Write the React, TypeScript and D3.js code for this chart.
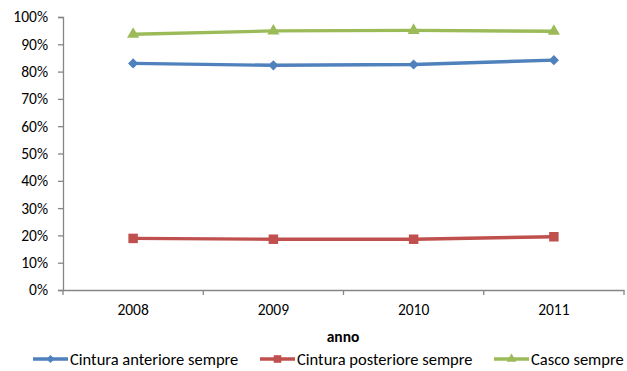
import * as d3 from 'd3';
import { useEffect, useRef } from 'react';

const years = ['2008', '2009', '2010', '2011'];
const cinturaAnteriore = [0.83, 0.823, 0.826, 0.842];
const cinturaPosteriore = [0.189, 0.186, 0.186, 0.195];
const cascoSempre = [0.937, 0.949, 0.951, 0.948];
const yTicks = [0, 0.1, 0.2, 0.3, 0.4, 0.5, 0.6, 0.7, 0.8, 0.9, 1];

type Shape = 'diamond' | 'square' | 'triangle';

const series: Array<{ label: string; values: number[]; color: string; shape: Shape }> = [
  { label: 'Cintura anteriore sempre', values: cinturaAnteriore, color: '#4f81bd', shape: 'diamond' },
  { label: 'Cintura posteriore sempre', values: cinturaPosteriore, color: '#c0504d', shape: 'square' },
  { label: 'Casco sempre', values: cascoSempre, color: '#9bbb59', shape: 'triangle' },
];

const FONT = 'Carlito, Calibri, Lato, sans-serif';
const width = 627;
const height = 371;

function symbolPath(shape: Shape) {
  if (shape === 'diamond') return d3.symbol(d3.symbolDiamond2, 66)();
  if (shape === 'square') return d3.symbol(d3.symbolSquare, 90)();
  return d3.symbol(d3.symbolTriangle, 64)();
}

function App() {
  const svgRef = useRef<SVGSVGElement | null>(null);

  useEffect(() => {
    if (!svgRef.current) return;
    const svg = d3.select(svgRef.current);
    svg.selectAll('*').remove();

    const plot = { left: 63, right: 624, top: 17, bottom: 290 };
    const x = d3.scaleBand<string>().domain(years).range([plot.left, plot.right]);
    const y = d3.scaleLinear().domain([0, 1]).range([plot.bottom, plot.top]);
    const axisColor = '#868686';

    // y axis
    svg
      .append('g')
      .attr('transform', `translate(${plot.left},0)`)
      .call(d3.axisLeft(y).tickValues(yTicks).tickSize(5).tickPadding(10).tickFormat(d3.format('.0%')))
      .call((g) => {
        g.select('.domain').attr('stroke', axisColor).attr('stroke-width', 1.3);
        g.selectAll('line').attr('stroke', axisColor).attr('stroke-width', 1.3);
        g.selectAll('text').attr('font-family', FONT).attr('font-size', 15.5).attr('fill', '#000');
      });

    // x axis: labels centred, ticks on category boundaries
    const xAxis = svg.append('g').attr('transform', `translate(0,${plot.bottom})`);
    xAxis
      .call(d3.axisBottom(x).tickSize(0).tickPadding(14).tickSizeOuter(0))
      .call((g) => {
        g.select('.domain').attr('stroke', axisColor).attr('stroke-width', 1.3);
        g.selectAll('text').attr('font-family', FONT).attr('font-size', 15.5).attr('fill', '#000');
      });
    const boundaries = years.map((yr) => x(yr) as number).concat([plot.right]);
    xAxis
      .selectAll('line.bound')
      .data(boundaries)
      .join('line')
      .attr('class', 'bound')
      .attr('x1', (d) => d)
      .attr('x2', (d) => d)
      .attr('y1', 0)
      .attr('y2', 5)
      .attr('stroke', axisColor)
      .attr('stroke-width', 1.3);

    svg
      .append('text')
      .attr('x', 343)
      .attr('y', 342)
      .attr('text-anchor', 'middle')
      .attr('font-family', FONT)
      .attr('font-size', 15.5)
      .attr('font-weight', 'bold')
      .text('anno');

    const cx = (i: number) => (x(years[i]) as number) + x.bandwidth() / 2;
    const line = d3
      .line<number>()
      .x((_, i) => cx(i))
      .y((v) => y(v));

    series.forEach((s) => {
      svg
        .append('path')
        .attr('d', line(s.values))
        .attr('fill', 'none')
        .attr('stroke', s.color)
        .attr('stroke-width', 3.4)
        .attr('stroke-linejoin', 'round');
      svg
        .append('g')
        .selectAll('path')
        .data(s.values)
        .join('path')
        .attr('d', symbolPath(s.shape))
        .attr('transform', (v, i) => `translate(${cx(i)},${y(v)})`)
        .attr('fill', s.color);
    });

    // legend
    const legendStarts = [33, 260, 494];
    const legendY = 359;
    series.forEach((s, i) => {
      const g = svg.append('g').attr('transform', `translate(${legendStarts[i]},${legendY})`);
      g.append('line').attr('x1', 0).attr('x2', 35).attr('stroke', s.color).attr('stroke-width', 3.4);
      g.append('path').attr('d', symbolPath(s.shape)).attr('transform', 'translate(17.5,0) scale(0.8)').attr('fill', s.color);
      g.append('text')
        .attr('x', 37)
        .attr('y', 5.5)
        .attr('font-family', FONT)
        .attr('font-size', 16.5)
        .attr('fill', '#000')
        .text(s.label);
    });
  }, []);

  return (
    <svg
      ref={svgRef}
      width={width}
      height={height}
      style={{ position: 'fixed', left: 0, top: 0, background: '#fff' }}
    />
  );
}

export default App;
